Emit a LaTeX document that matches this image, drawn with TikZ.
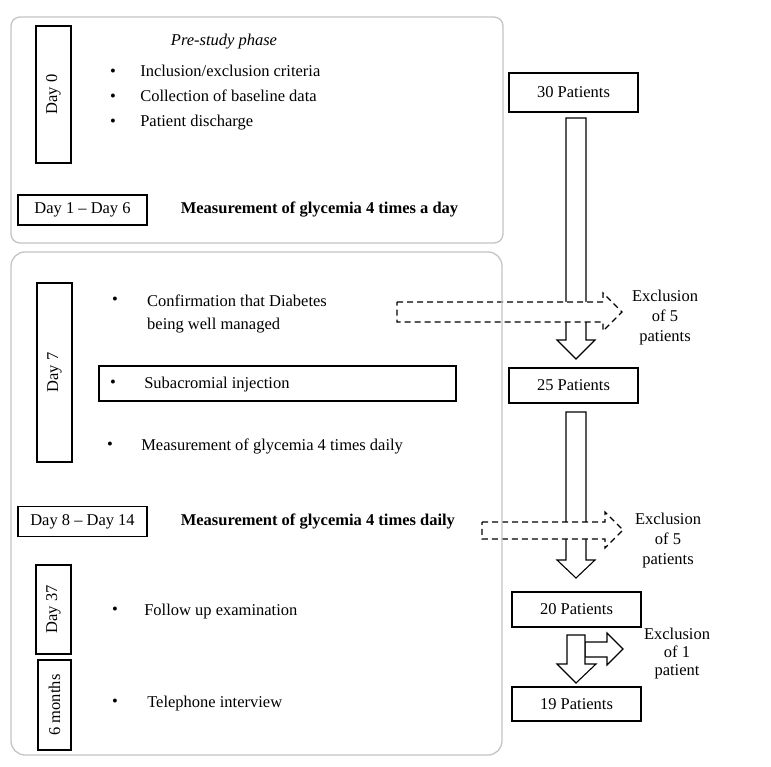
\documentclass[tikz,border=0pt]{standalone}
\usepackage{fontspec}
\setmainfont{Liberation Serif}
\usetikzlibrary{positioning}

\begin{document}
\begin{tikzpicture}[x=1pt,y=-1pt,font=\fontsize{16.5}{20}\selectfont,
  phase/.style={draw=black!23,line width=1.3pt},
  daybox/.style={draw,line width=1.2pt,rotate=90,inner sep=0pt},
  spanbox/.style={draw,line width=1.2pt,minimum width=129pt,minimum height=30pt,inner sep=0pt},
  countbox/.style={draw,line width=1.2pt,minimum width=129pt,inner sep=0pt},
  bul/.style={inner sep=0pt},
  item/.style={anchor=west,inner sep=0pt,text height=11pt,text depth=3pt},
  excl/.style={align=center,inner sep=0pt},
  block/.style={draw,line width=1.1pt,fill=white,line join=miter},
  dblock/.style={block,dash pattern=on 6pt off 4pt}]

    % page
    \useasboundingbox (0,0) rectangle (771,767);
    \fill[white] (0,0) rectangle (771,767);

    % Pre-study phase
    \node[daybox,minimum width=137pt,minimum height=35pt] (d0) at (53.5,94.5) {Day 0};
    \node[inner sep=0pt] (pre) at (224,42) {\itshape Pre-study phase};
    \node[bul] (b1) at (113,73) {\textbullet};
    \node[bul] (b2) at (113,98) {\textbullet};
    \node[bul] (b3) at (113,123) {\textbullet};
    \node[item,right=24pt of b1] (incl) {Inclusion/exclusion criteria};
    \node[item,right=24pt of b2] (base) {Collection of baseline data};
    \node[item,right=24pt of b3] (disch) {Patient discharge};

    \node[spanbox] (d16) at (82.5,210) {Day 1 -- Day 6};
    \node[item,right=33pt of d16] (meas1) {\bfseries Measurement of glycemia 4 times a day};

    % Study phase
    \node[daybox,minimum width=179pt,minimum height=35pt] (d7) at (54.5,372.5) {Day 7};
    \node[bul] (b4) at (115,301) {\textbullet};
    \node[anchor=west,align=left,inner sep=0pt,font=\fontsize{16.5}{23}\selectfont] (conf) at (147,314) {Confirmation that Diabetes\\being well managed};

    \node[draw,line width=1.2pt,minimum width=357pt,minimum height=35pt] (inj) at (277.5,383.5) {};
    \node[bul] (b5) at (113,384) {\textbullet};
    \node[item,right=28pt of b5] (sub) {Subacromial injection};

    \node[bul] (b6) at (110,446) {\textbullet};
    \node[item,right=28pt of b6] (meas2) {Measurement of glycemia 4 times daily};

    \node[spanbox] (d814) at (82.5,521.5) {Day 8 -- Day 14};
    \node[item,right=33pt of d814] (meas3) {\bfseries Measurement of glycemia 4 times daily};

    \node[daybox,minimum width=89pt,minimum height=35pt] (d37) at (53.5,609.5) {Day 37};
    \node[bul] (b7) at (115,611) {\textbullet};
    \node[item,right=26pt of b7] (follow) {Follow up examination};

    \node[daybox,minimum width=90pt,minimum height=33pt] (d6m) at (54.5,705) {6 months};
    \node[bul] (b8) at (115,703) {\textbullet};
    \node[item,right=29pt of b8] (tel) {Telephone interview};

    % Patient flow
    \node[countbox,minimum height=39pt] (p30) at (573.5,92.5) {30 Patients};
    \node[countbox,minimum height=35pt] (p25) at (573.5,385.5) {25 Patients};
    \node[countbox,minimum height=35pt] (p20) at (576.5,609.5) {20 Patients};
    \node[countbox,minimum height=34pt] (p19) at (576.5,704) {19 Patients};

    \node[excl] (ex1) at (665,318) {Exclusion\\of 5\\patients};
    \node[excl] (ex2) at (668,541) {Exclusion\\of 5\\patients};
    \node[excl,font=\fontsize{16.5}{18}\selectfont] (ex3) at (677,654) {Exclusion\\of 1\\patient};

    % block arrows
    \draw[block] (566,118) -- (586,118) -- (586,340) -- (595,340) -- (576,359) -- (557,340) -- (566,340) -- cycle;
    \draw[dblock] (397,302) -- (603,302) -- (603,293) -- (622,312) -- (603,331) -- (603,322) -- (397,322) -- cycle;

    \draw[block] (566,412) -- (586,412) -- (586,560) -- (595,560) -- (576,578) -- (557,560) -- (566,560) -- cycle;
    \draw[dblock] (482,522) -- (605,522) -- (605,512) -- (623,530) -- (605,548) -- (605,539) -- (482,539) -- cycle;

    \draw[block] (585,642) -- (607,642) -- (607,633) -- (623,649) -- (607,665) -- (607,657) -- (585,657) -- cycle;
    \draw[block] (567,635) -- (585,635) -- (585,664) -- (596,664) -- (576,683) -- (557,664) -- (567,664) -- cycle;

    % phase frames
    \draw[phase,rounded corners=9pt] (11,17) rectangle (503,243);
    \draw[phase,rounded corners=14pt] (11,252) rectangle (502,755);

\end{tikzpicture}
\end{document}
